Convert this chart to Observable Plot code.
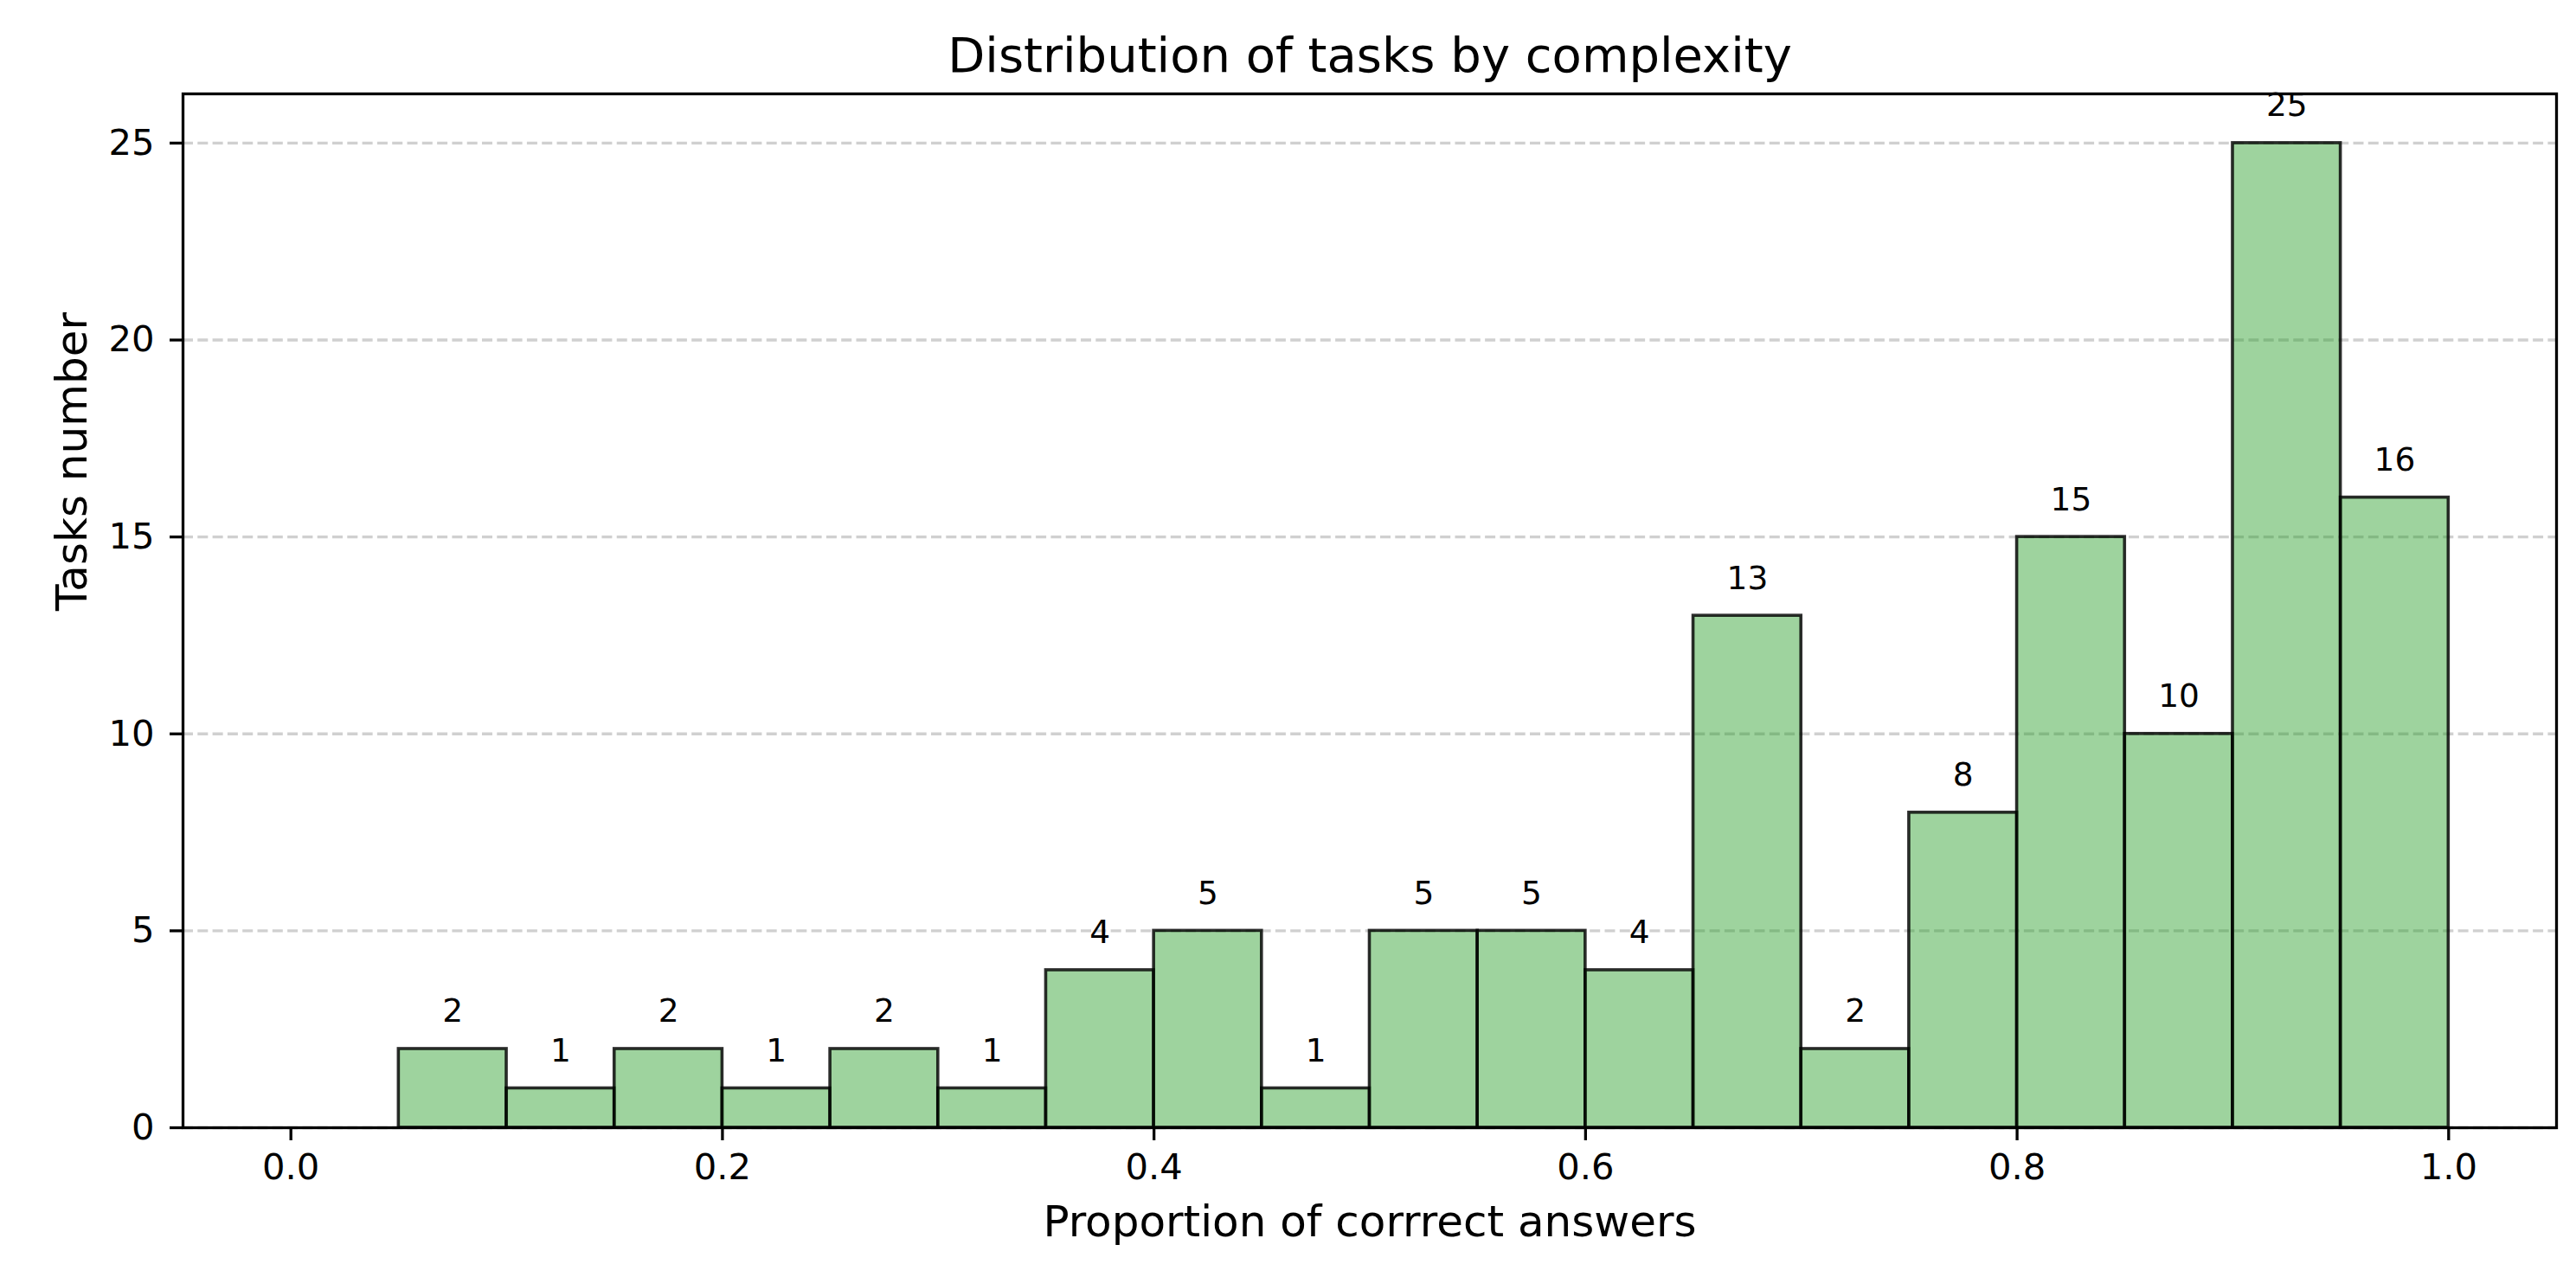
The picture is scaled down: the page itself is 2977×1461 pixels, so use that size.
<!DOCTYPE html>
<html>
<head>
<meta charset="utf-8">
<script src="https://cdn.jsdelivr.net/npm/d3@7"></script>
<script src="https://cdn.jsdelivr.net/npm/@observablehq/plot@0.6"></script>
<style>
  html, body { margin: 0; padding: 0; background: #fff; }
</style>
</head>
<body>
<div id="chart"></div>
<script>
// ---- data ----
const binStart = [0.00, 0.05, 0.10, 0.15, 0.20, 0.25, 0.30, 0.35, 0.40, 0.45,
                  0.50, 0.55, 0.60, 0.65, 0.70, 0.75, 0.80, 0.85, 0.90, 0.95];
const binEnd   = [0.05, 0.10, 0.15, 0.20, 0.25, 0.30, 0.35, 0.40, 0.45, 0.50,
                  0.55, 0.60, 0.65, 0.70, 0.75, 0.80, 0.85, 0.90, 0.95, 1.00];
const counts   = [0, 2, 1, 2, 1, 2, 1, 4, 5, 1, 5, 5, 4, 13, 2, 8, 15, 10, 25, 16];
const xTicks = [0.0, 0.2, 0.4, 0.6, 0.8, 1.0];
const yTicks = [0, 5, 10, 15, 20, 25];
const titleText = "Distribution of tasks by complexity";
const xLabel = "Proportion of corrrect answers";
const yLabel = "Tasks number";

const data = binStart.map((x0, i) => ({x0, x1: binEnd[i], count: counts[i]}));

const W = 2977, H = 1461;
const chart = Plot.plot({
  width: W,
  height: H,
  marginLeft: 211,
  marginRight: 23,
  marginTop: 108,
  marginBottom: 158,
  style: {fontFamily: "DejaVu Sans", fontSize: "41.7px", background: "#fff", color: "#000"},
  x: {domain: [-0.05, 1.05], label: null},
  y: {domain: [0, 26.25], label: null},
  marks: [
    Plot.gridY(yTicks, {stroke: "#b0b0b0", strokeOpacity: 0.6, strokeWidth: 3.3, strokeDasharray: "12,5.3"}),
    Plot.rectY(data, {x1: "x0", x2: "x1", y1: 0, y2: "count", inset: 0,
      fill: "#2ca02c", fillOpacity: 0.46, stroke: "#000", strokeOpacity: 0.82, strokeWidth: 3.6}),
    Plot.text(data.filter(d => d.count > 0), {
      x: d => (d.x0 + d.x1) / 2, y: "count", text: d => String(d.count),
      lineAnchor: "bottom", dy: -31, fontSize: 37.5, fill: "#000"
    }),
    Plot.frame({stroke: "#000", strokeWidth: 3.3}),
    Plot.axisX({ticks: xTicks, tickFormat: d => d.toFixed(1), tickSize: 15, tickPadding: 15,
      strokeWidth: 3.3, fontSize: 41.7, label: null}),
    Plot.axisY({ticks: yTicks, tickFormat: d => String(d), tickSize: 15, tickPadding: 18,
      strokeWidth: 3.3, fontSize: 41.7, label: null}),
    Plot.text([titleText], {frameAnchor: "top", dy: -26, lineAnchor: "bottom", fontSize: 56, text: d => d}),
    Plot.text([xLabel], {frameAnchor: "bottom", dy: 125, lineAnchor: "bottom", fontSize: 50, text: d => d}),
    Plot.text([yLabel], {frameAnchor: "left", dx: -112, rotate: -90, lineAnchor: "bottom", fontSize: 50, text: d => d})
  ]
});
document.getElementById("chart").appendChild(chart);
</script>
</body>
</html>
